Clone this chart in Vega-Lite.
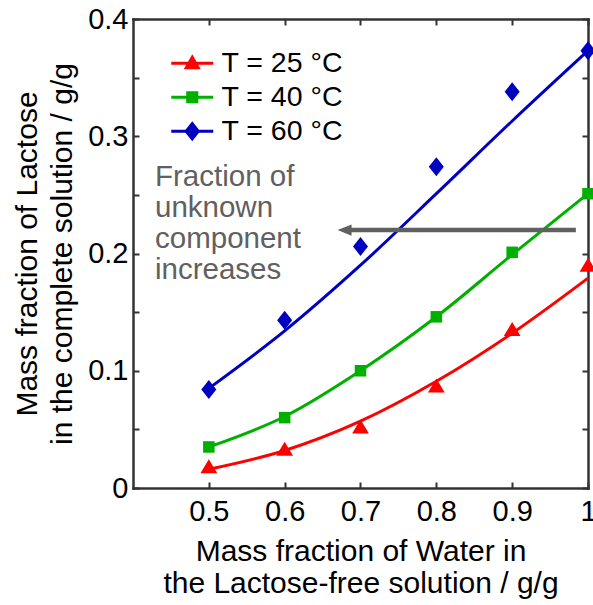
{
  "$schema": "https://vega.github.io/schema/vega-lite/v6.json",
  "width": 455,
  "height": 469,
  "autosize": "none",
  "padding": {"left": 133, "top": 19, "right": 5, "bottom": 117},
  "background": "white",
  "config": {
    "view": {"stroke": null},
    "font": "Liberation Sans",
    "axis": {
      "domainColor": "#333333", "domainWidth": 2.5, "domainCap": "square",
      "tickColor": "#333333", "tickWidth": 2, "tickSize": -6,
      "grid": false,
      "labelFont": "Liberation Sans", "labelFontSize": 29, "labelColor": "black",
      "titleFont": "Liberation Sans", "titleFontSize": 30, "titleFontWeight": "normal", "titleColor": "black"
    }
  },
  "datasets": {
    "fit": [
      {"x": 0.5, "y": 0.016, "T": "T = 25 °C"}, {"x": 0.6, "y": 0.032, "T": "T = 25 °C"}, {"x": 0.7, "y": 0.057, "T": "T = 25 °C"},
      {"x": 0.8, "y": 0.091, "T": "T = 25 °C"}, {"x": 0.9, "y": 0.132, "T": "T = 25 °C"}, {"x": 1.0, "y": 0.179, "T": "T = 25 °C"},
      {"x": 0.5, "y": 0.035, "T": "T = 40 °C"}, {"x": 0.6, "y": 0.061, "T": "T = 40 °C"}, {"x": 0.7, "y": 0.100, "T": "T = 40 °C"},
      {"x": 0.8, "y": 0.146, "T": "T = 40 °C"}, {"x": 0.9, "y": 0.199, "T": "T = 40 °C"}, {"x": 1.0, "y": 0.251, "T": "T = 40 °C"},
      {"x": 0.5, "y": 0.085, "T": "T = 60 °C"}, {"x": 0.6, "y": 0.134, "T": "T = 60 °C"}, {"x": 0.7, "y": 0.190, "T": "T = 60 °C"},
      {"x": 0.8, "y": 0.251, "T": "T = 60 °C"}, {"x": 0.9, "y": 0.313, "T": "T = 60 °C"}, {"x": 1.0, "y": 0.373, "T": "T = 60 °C"}
    ],
    "pts": [
      {"x": 0.5, "y": 0.018, "T": "T = 25 °C"}, {"x": 0.6, "y": 0.033, "T": "T = 25 °C"}, {"x": 0.7, "y": 0.052, "T": "T = 25 °C"},
      {"x": 0.8, "y": 0.087, "T": "T = 25 °C"}, {"x": 0.9, "y": 0.135, "T": "T = 25 °C"}, {"x": 1.0, "y": 0.190, "T": "T = 25 °C"},
      {"x": 0.5, "y": 0.035, "T": "T = 40 °C"}, {"x": 0.6, "y": 0.060, "T": "T = 40 °C"}, {"x": 0.7, "y": 0.100, "T": "T = 40 °C"},
      {"x": 0.8, "y": 0.146, "T": "T = 40 °C"}, {"x": 0.9, "y": 0.201, "T": "T = 40 °C"}, {"x": 1.0, "y": 0.251, "T": "T = 40 °C"},
      {"x": 0.5, "y": 0.084, "T": "T = 60 °C"}, {"x": 0.6, "y": 0.143, "T": "T = 60 °C"}, {"x": 0.7, "y": 0.206, "T": "T = 60 °C"},
      {"x": 0.8, "y": 0.274, "T": "T = 60 °C"}, {"x": 0.9, "y": 0.338, "T": "T = 60 °C"}, {"x": 1.0, "y": 0.373, "T": "T = 60 °C"}
    ],
    "arrow": [{"x": 0.984, "x2": 0.684, "y": 0.22, "head": 0.679}],
    "note": [{"x": 0.429, "y": 0.2576, "text": "Fraction of\nunknown\ncomponent\nincreases"}]
  },
  "layer": [
    {
      "data": {"name": "fit"},
      "mark": {"type": "line", "interpolate": "monotone", "strokeWidth": 3},
      "encoding": {
        "x": {"field": "x", "type": "quantitative", "scale": {"domain": [0.4, 1.0], "nice": false, "zero": false},
              "axis": {"values": [0.5, 0.6, 0.7, 0.8, 0.9, 1.0], "format": "~g", "labelFlush": false, "labelOverlap": false, "labelPadding": 15,
                       "title": ["Mass fraction of Water in", "the Lactose-free solution / g/g"], "titleLineHeight": 32, "titlePadding": 10}},
        "y": {"field": "y", "type": "quantitative", "scale": {"domain": [0, 0.4], "nice": false, "zero": false},
              "axis": {"values": [0, 0.05, 0.1, 0.15, 0.2, 0.25, 0.3, 0.35, 0.4], "labelExpr": "round(datum.value*20) % 2 == 0 ? format(datum.value, '~g') : ''",
                       "labelFlush": false, "labelOverlap": false, "labelPadding": 11,
                       "title": ["Mass fraction of Lactose", "in the complete solution / g/g"], "titleLineHeight": 35, "titlePadding": 10}},
        "color": {"field": "T", "type": "nominal", "scale": {"domain": ["T = 25 °C", "T = 40 °C", "T = 60 °C"], "range": ["#ff0000", "#00b000", "#0000c0"]}}
      }
    },
    {
      "data": {"name": "pts"},
      "transform": [{"filter": "datum.T === 'T = 25 °C'"}],
      "mark": {"type": "point", "filled": true, "opacity": 1, "size": 256, "shape": "M0,-0.95L1.05,0.8L-1.05,0.8Z"},
      "encoding": {
        "x": {"field": "x", "type": "quantitative", "axis": null},
        "y": {"field": "y", "type": "quantitative", "axis": null},
        "color": {"field": "T", "type": "nominal",
                  "legend": {"orient": "none", "legendX": 45, "legendY": 30, "title": null, "padding": 0,
                             "labelFontSize": 28.5, "labelFont": "Liberation Sans", "labelColor": "black", "labelOffset": 15,
                             "symbolSize": 196, "symbolOpacity": 1, "rowPadding": 5,
                             "encode": {"symbols": {"update": {
                               "shape": {"signal": "indexof(datum.value,'25')>=0 ? 'M-3,0H3M0,-0.85L0.85,0.65L-0.85,0.65Z' : indexof(datum.value,'40')>=0 ? 'M-3,0H3M-0.65,-0.65H0.65V0.65H-0.65Z' : 'M-3,0H3M0,-1.07L0.86,0L0,1.07L-0.86,0Z'"},
                               "stroke": {"signal": "scale('color', datum.value)"},
                               "fill": {"signal": "scale('color', datum.value)"},
                               "strokeWidth": {"value": 3},
                               "opacity": {"value": 1}
                             }}}}}
      }
    },
    {
      "data": {"name": "pts"},
      "transform": [{"filter": "datum.T === 'T = 40 °C'"}],
      "mark": {"type": "point", "filled": true, "opacity": 1, "size": 256, "shape": "M-0.72,-0.72H0.72V0.72H-0.72Z"},
      "encoding": {
        "x": {"field": "x", "type": "quantitative", "axis": null},
        "y": {"field": "y", "type": "quantitative", "axis": null},
        "color": {"field": "T", "type": "nominal"}
      }
    },
    {
      "data": {"name": "pts"},
      "transform": [{"filter": "datum.T === 'T = 60 °C'"}],
      "mark": {"type": "point", "filled": true, "opacity": 1, "size": 256, "shape": "M0,-1.19L0.94,0L0,1.19L-0.94,0Z"},
      "encoding": {
        "x": {"field": "x", "type": "quantitative", "axis": null},
        "y": {"field": "y", "type": "quantitative", "axis": null},
        "color": {"field": "T", "type": "nominal"}
      }
    },
    {
      "data": {"name": "arrow"},
      "mark": {"type": "rule", "strokeWidth": 4.5, "color": "#606060"},
      "encoding": {
        "x": {"field": "x", "type": "quantitative", "axis": null},
        "x2": {"field": "x2"},
        "y": {"field": "y", "type": "quantitative", "axis": null}
      }
    },
    {
      "data": {"name": "arrow"},
      "mark": {"type": "point", "filled": true, "opacity": 1, "color": "#606060", "size": 196, "shape": "M-1,0L1,-0.8L1,0.8Z"},
      "encoding": {
        "x": {"field": "head", "type": "quantitative", "axis": null},
        "y": {"field": "y", "type": "quantitative", "axis": null}
      }
    },
    {
      "data": {"name": "note"},
      "mark": {"type": "text", "align": "left", "baseline": "alphabetic", "fontSize": 29.5, "lineHeight": 31, "color": "#606060", "font": "Liberation Sans", "lineBreak": "\n"},
      "encoding": {
        "x": {"field": "x", "type": "quantitative", "axis": null},
        "y": {"field": "y", "type": "quantitative", "axis": null},
        "text": {"field": "text"}
      }
    },
    {
      "data": {"name": "fit"},
      "mark": {"type": "point", "opacity": 0},
      "encoding": {
        "x": {"field": "x", "type": "quantitative", "axis": {"orient": "top", "labels": false, "title": null, "values": [0.5, 0.6, 0.7, 0.8, 0.9, 1.0]}},
        "y": {"field": "y", "type": "quantitative", "axis": {"orient": "right", "labels": false, "title": null, "values": [0, 0.05, 0.1, 0.15, 0.2, 0.25, 0.3, 0.35, 0.4]}}
      }
    }
  ],
  "resolve": {"axis": {"x": "independent", "y": "independent"}}
}
